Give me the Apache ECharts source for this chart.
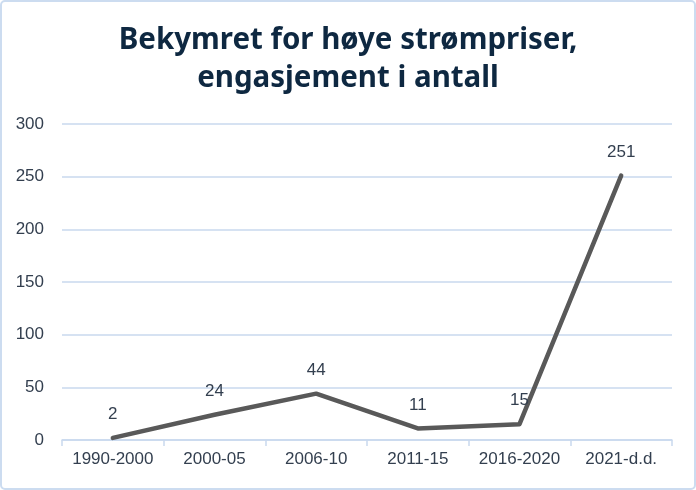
<!DOCTYPE html>
<html>
<head>
<meta charset="utf-8">
<script src="https://cdn.jsdelivr.net/npm/echarts@6/dist/echarts.min.js"></script>
<style>
html,body{margin:0;padding:0;background:#fff;}
#c{width:696px;height:490px;}
</style>
</head>
<body>
<div id="c"></div>
<script>
const titleText = "Bekymret for høye strømpriser,\nengasjement i antall";
const categories = ["1990-2000", "2000-05", "2006-10", "2011-15", "2016-2020", "2021-d.d."];
const values = [2, 24, 44, 11, 15, 251];
const yMin = 0, yMax = 300, yInterval = 50;

const chart = echarts.init(document.getElementById('c'), null, {renderer: 'canvas'});
const gridColor = '#C9D9EE';
const textColor = '#333F4F';
chart.setOption({
  backgroundColor: '#fff',
  animation: false,
  title: {
    text: titleText,
    left: 'center',
    top: 17,
    textStyle: {
      fontFamily: 'Noto Sans',
      fontWeight: 'bold',
      fontSize: 29.5,
      lineHeight: 38,
      color: '#0E2841'
    }
  },
  graphic: [{
    type: 'rect',
    shape: {x: 1, y: 1, width: 694, height: 488, r: 4},
    style: {fill: 'none', stroke: '#CCDCF0', lineWidth: 2},
    silent: true
  }],
  grid: {left: 62, right: 24, top: 124, bottom: 50},
  xAxis: {
    type: 'category',
    data: categories,
    boundaryGap: true,
    axisLine: {show: true, lineStyle: {color: gridColor, width: 1.5}},
    axisTick: {show: true, length: 6, interval: 0, lineStyle: {color: gridColor, width: 1.5}},
    axisLabel: {interval: 0, hideOverlap: false, color: textColor, fontSize: 17, fontFamily: 'Liberation Sans', margin: 11}
  },
  yAxis: {
    type: 'value',
    min: yMin, max: yMax, interval: yInterval,
    axisLine: {show: false},
    axisTick: {show: false},
    splitLine: {lineStyle: {color: gridColor, width: 1.5}},
    axisLabel: {color: textColor, fontSize: 17, fontFamily: 'Liberation Sans', margin: 18}
  },
  series: [{
    type: 'line',
    data: values,
    showSymbol: true,
    symbol: 'circle',
    symbolSize: 0,
    itemStyle: {color: '#595959'},
    lineStyle: {color: '#595959', width: 4.5, cap: 'round', join: 'round'},
    label: {
      show: true,
      position: 'top',
      distance: 15,
      color: textColor,
      fontSize: 17,
      fontFamily: 'Liberation Sans'
    }
  }]
});
</script>
</body>
</html>
